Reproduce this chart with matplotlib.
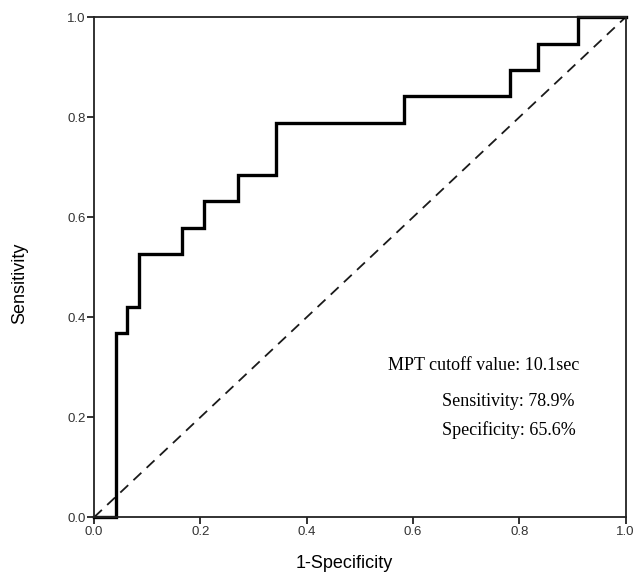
import matplotlib
matplotlib.use("Agg")
import matplotlib.pyplot as plt

# ROC curve vertices (1-specificity, sensitivity)
fpr = [0.0, 0.041, 0.041, 0.063, 0.063, 0.085, 0.085, 0.166, 0.166, 0.207, 0.207,
       0.270, 0.270, 0.343, 0.343, 0.5825, 0.5825, 0.782, 0.782, 0.8355, 0.8355,
       0.910, 0.910, 1.0]
tpr = [0.0, 0.0, 0.368, 0.368, 0.421, 0.421, 0.526, 0.526, 0.579, 0.579, 0.632,
       0.632, 0.684, 0.684, 0.789, 0.789, 0.842, 0.842, 0.895, 0.895, 0.947,
       0.947, 1.0, 1.0]
ref_line = [0.0, 1.0]
ticks = [0.0, 0.2, 0.4, 0.6, 0.8, 1.0]
tick_labels = ["0.0", "0.2", "0.4", "0.6", "0.8", "1.0"]
annotations = ["MPT cutoff value: 10.1sec", "Sensitivity: 78.9%", "Specificity: 65.6%"]

fig = plt.figure(figsize=(6.36, 5.74), dpi=100)
ax = fig.add_axes([94/636, 1-517.3/574, (625.5-94)/636, (517.3-17.3)/574])

ax.plot(ref_line, ref_line, color="#1a1a1a", lw=1.3, ls=(0, (6, 4)))
ax.plot(fpr, tpr, color="black", lw=2.4, solid_joinstyle="miter", clip_on=False)

ax.set_xlim(0, 1)
ax.set_ylim(0, 1)
ax.set_xticks(ticks)
ax.set_xticklabels(tick_labels)
ax.set_yticks(ticks)
ax.set_yticklabels(tick_labels)
for s in ax.spines.values():
    s.set_linewidth(1.3)
    s.set_color("#222222")
ax.tick_params(direction="out", length=5, width=1.3, color="#222222",
               labelsize=9.5, labelcolor="#333333", pad=1)
for lab in ax.get_xticklabels() + ax.get_yticklabels():
    lab.set_family("Liberation Sans")

fig.text(344/636, 1-563/574, "1-Specificity", ha="center", va="center",
         fontsize=13, family="Liberation Sans")
fig.text(20/636, 1-283/574, "Sensitivity", ha="center", va="center",
         rotation=90, fontsize=13, family="Liberation Sans")

ys = [366, 401, 430]
xs = [579, 575, 576]
for t, y, x in zip(annotations, ys, xs):
    fig.text(x/636, 1-y/574, t, ha="right", va="center", fontsize=13,
             family="Liberation Serif")

fig.savefig("out.png", dpi=100)
